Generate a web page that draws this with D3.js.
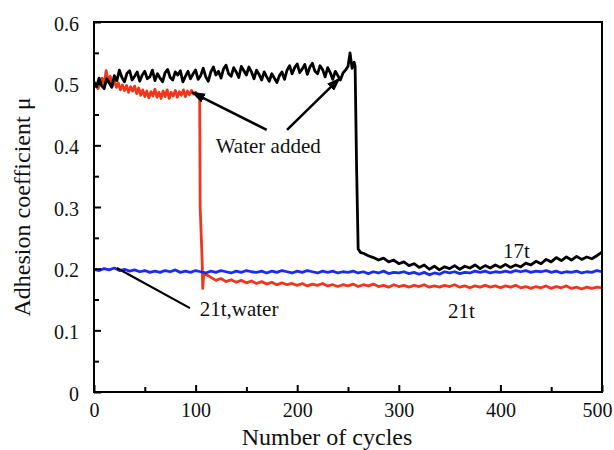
<!DOCTYPE html>
<html>
<head>
<meta charset="utf-8">
<script src="https://cdn.jsdelivr.net/npm/d3@7"></script>
<style>
  html, body { margin: 0; padding: 0; background: #fff; }
  svg { display: block; font-family: "Liberation Serif", "Times New Roman", serif; }
</style>
</head>
<body>
<svg id="chart" width="614" height="450"></svg>
<script>
// Axis ticks
const xTicks = [0, 100, 200, 300, 400, 500];
const xMinor = [50, 150, 250, 350, 450];
const yTicks = [0, 0.1, 0.2, 0.3, 0.4, 0.5, 0.6];
const yMinor = [0.05, 0.15, 0.25, 0.35, 0.45, 0.55];

// 17t (dry, water added at ~257 cycles)
const cycles17 = [...d3.range(0, 250.1, 2.5), 252, 254, 256, 257, 258.5, 260, 262.5, ...d3.range(265, 500.1, 5)];
const mu17 = [
  .503,.495,.509,.497,.492,.508,.501,.494,.513,.505,
  .522,.510,.503,.517,.521,.506,.512,.519,.504,.514,
  .520,.508,.511,.522,.505,.516,.509,.503,.518,.523,
  .510,.506,.519,.514,.521,.503,.512,.520,.508,.516,
  .522,.507,.513,.525,.511,.504,.519,.527,.514,.520,
  .509,.524,.530,.516,.512,.526,.519,.510,.528,.521,
  .514,.527,.519,.508,.522,.515,.506,.519,.511,.504,
  .516,.509,.502,.513,.519,.507,.522,.529,.516,.526,
  .532,.518,.524,.531,.515,.527,.533,.520,.516,.529,
  .523,.511,.526,.518,.507,.520,.513,.506,.517,.522,
  .528,
  .550,.525,.535,.528,.360,.232,.226,
  .225,.221,.218,.214,.217,.211,.214,.208,.211,.205,
  .208,.202,.206,.199,.204,.198,.203,.200,.205,.199,
  .204,.201,.206,.200,.205,.201,.206,.202,.207,.202,
  .206,.203,.209,.206,.212,.208,.215,.211,.218,.213,
  .219,.214,.220,.215,.219,.216,.221,.227
];

// 21t (dry, water added at ~104 cycles)
const cycles21 = [...d3.range(0, 104.1, 2), 104.5, 106.5, 107, 108, 112, 116, ...d3.range(120, 500.1, 5)];
const mu21 = [
  .494,.500,.492,.503,.509,.499,.521,.503,.512,.497,
  .505,.494,.501,.490,.498,.489,.497,.486,.495,.488,
  .496,.484,.493,.481,.490,.479,.488,.477,.487,.480,
  .491,.478,.486,.476,.488,.479,.490,.476,.486,.480,
  .489,.478,.487,.481,.490,.479,.488,.482,.489,.483,
  .486,.481,.480,
  .300,.210,.168,.192,.189,.185,
  .181,.184,.179,.182,.178,.181,.177,.180,.176,.179,
  .175,.178,.174,.177,.174,.176,.173,.176,.172,.175,
  .173,.176,.172,.174,.171,.174,.172,.175,.171,.174,
  .172,.175,.171,.173,.170,.174,.171,.173,.170,.173,
  .171,.174,.170,.172,.170,.173,.171,.174,.170,.172,
  .169,.172,.170,.173,.170,.172,.169,.172,.170,.173,
  .169,.171,.168,.171,.169,.172,.168,.171,.169,.172,
  .168,.170,.167,.170,.168,.170,.169
];

// 21t, water from the start
const cycles21w = d3.range(0, 500.1, 5);
const mu21w = [
  .199,.197,.200,.198,.201,.197,.199,.196,.198,.195,
  .197,.194,.196,.194,.197,.195,.198,.194,.196,.194,
  .197,.195,.193,.196,.194,.197,.195,.193,.196,.194,
  .197,.195,.194,.196,.193,.196,.194,.197,.195,.193,
  .196,.194,.197,.195,.193,.196,.194,.196,.193,.195,
  .194,.196,.193,.195,.192,.195,.193,.196,.192,.194,
  .193,.195,.192,.194,.191,.194,.190,.193,.191,.195,
  .193,.195,.192,.194,.193,.196,.194,.196,.193,.195,
  .194,.196,.194,.197,.195,.197,.194,.196,.195,.197,
  .194,.196,.193,.195,.194,.196,.193,.195,.194,.197,
  .195
];

const svg = d3.select("#chart");
const m = { left: 94, right: 602, top: 22, bottom: 392 };
const x = d3.scaleLinear().domain([0, 500]).range([m.left, m.right]);
const y = d3.scaleLinear().domain([0, 0.6]).range([m.bottom, m.top]);

const pairs = (cx, cy) => cx.slice(0, Math.min(cx.length, cy.length)).map((c, i) => [c, cy[i]]);
const line = d3.line().x(d => x(d[0])).y(d => y(d[1]));

// Data traces
const traces = [
  { data: pairs(cycles21, mu21), color: "#f2361b" },
  { data: pairs(cycles21w, mu21w), color: "#1a2cf0" },
  { data: pairs(cycles17, mu17), color: "#000000" }
];
svg.append("g").selectAll("path").data(traces).join("path")
  .attr("d", d => line(d.data))
  .attr("fill", "none")
  .attr("stroke", d => d.color)
  .attr("stroke-width", 2.8)
  .attr("stroke-linejoin", "round");

// Axes (ticks inside)
const fontSize = 20;
const yAxis = svg.append("g").attr("transform", `translate(${m.left},0)`)
  .call(d3.axisLeft(y).tickValues(yTicks).tickFormat(d => d === 0 ? "0" : d3.format(".1f")(d))
    .tickSizeInner(-7).tickSizeOuter(0).tickPadding(15));
const yMin = svg.append("g").attr("transform", `translate(${m.left},0)`)
  .call(d3.axisLeft(y).tickValues(yMinor).tickFormat("").tickSizeInner(-5).tickSizeOuter(0));
const xAxis = svg.append("g").attr("transform", `translate(0,${m.bottom})`)
  .call(d3.axisBottom(x).tickValues(xTicks).tickFormat(d3.format("d"))
    .tickSizeInner(-7).tickSizeOuter(0).tickPadding(11));
const xMin = svg.append("g").attr("transform", `translate(0,${m.bottom})`)
  .call(d3.axisBottom(x).tickValues(xMinor).tickFormat("").tickSizeInner(-5).tickSizeOuter(0));

[yAxis, yMin, xAxis, xMin].forEach(g => {
  g.select(".domain").remove();
  g.selectAll("line").attr("stroke", "#000").attr("stroke-width", 2);
  g.selectAll("text").attr("font-size", fontSize).attr("fill", "#111")
    .attr("font-family", "Liberation Serif, serif");
});
yAxis.selectAll("text").attr("dy", "0.4em");
// keep the last label inside the canvas
xAxis.selectAll("text").filter(d => d === 500).attr("dx", -5);

// Plot frame
svg.append("rect")
  .attr("x", m.left).attr("y", m.top)
  .attr("width", m.right - m.left).attr("height", m.bottom - m.top)
  .attr("fill", "none").attr("stroke", "#000").attr("stroke-width", 2);

// Axis titles
svg.append("text").attr("x", 327).attr("y", 445)
  .attr("text-anchor", "middle").attr("font-size", 24).attr("fill", "#111")
  .text("Number of cycles");
svg.append("text").attr("transform", "translate(30,207) rotate(-90)")
  .attr("text-anchor", "middle").attr("font-size", 24).attr("fill", "#111")
  .text("Adhesion coefficient μ");

// Annotations
const defs = svg.append("defs");
defs.append("marker").attr("id", "head")
  .attr("markerUnits", "userSpaceOnUse")
  .attr("viewBox", "0 0 14 10").attr("refX", 13).attr("refY", 5)
  .attr("markerWidth", 14).attr("markerHeight", 10)
  .attr("orient", "auto")
  .append("path").attr("d", "M0,0 L14,5 L0,10 Z").attr("fill", "#000");

const arrows = [
  { from: [170, 0.425], to: [96.5, 0.486] },
  { from: [190, 0.425], to: [242, 0.509] }
];
svg.append("g").selectAll("line").data(arrows).join("line")
  .attr("x1", d => x(d.from[0])).attr("y1", d => y(d.from[1]))
  .attr("x2", d => x(d.to[0])).attr("y2", d => y(d.to[1]))
  .attr("stroke", "#000").attr("stroke-width", 2.5)
  .attr("marker-end", "url(#head)");

// leader for the water-from-start trace
svg.append("line")
  .attr("x1", x(22.5)).attr("y1", y(0.201))
  .attr("x2", x(94.5)).attr("y2", y(0.136))
  .attr("stroke", "#000").attr("stroke-width", 2.2);

const labels = [
  { t: "Water added", cx: 171.5, v: 0.3875, anchor: "middle" },
  { t: "21t,water", cx: 104, v: 0.123, anchor: "start" },
  { t: "17t", cx: 402.5, v: 0.217, anchor: "start" },
  { t: "21t", cx: 348.5, v: 0.120, anchor: "start" }
];
svg.append("g").selectAll("text").data(labels).join("text")
  .attr("x", d => x(d.cx)).attr("y", d => y(d.v))
  .attr("text-anchor", d => d.anchor)
  .attr("font-size", 21).attr("fill", "#111")
  .text(d => d.t);
</script>
</body>
</html>
